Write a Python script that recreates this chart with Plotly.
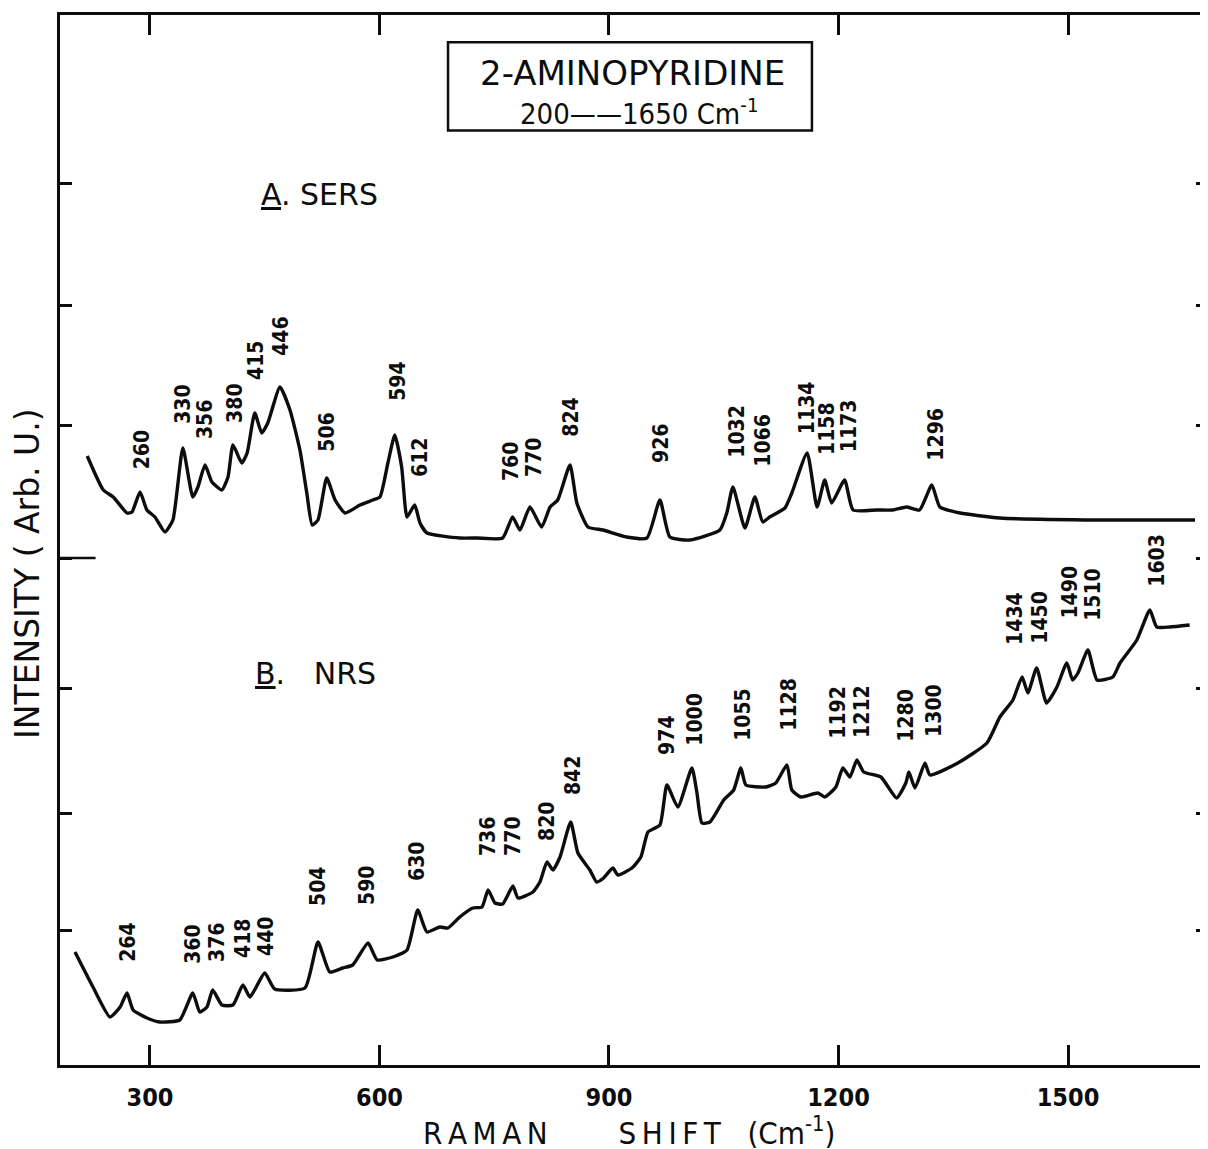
import plotly.graph_objects as go

# ---------------- data (Raman shift in cm-1, intensity in arbitrary units) ----------------
sers_x = [218, 239, 252, 270, 276.5, 287, 296, 306.5, 319.6, 330, 343, 356, 362.7, 372, 381,
          394, 402, 408.5, 420, 427, 437, 446, 454, 470, 483, 496, 505, 512, 519.6, 531,
          542, 555, 574.5, 591.5, 600.6, 611, 620, 629, 636, 646, 653, 662, 705, 727, 761,
          774, 783.6, 796.7, 812, 823, 833, 849, 858, 872.5, 892, 923, 949.6, 966.6, 979.6, 1006,
          1045, 1054, 1062, 1077.7, 1090.7, 1101, 1110, 1130, 1139, 1159, 1172, 1182, 1191, 1208, 1219,
          1250, 1271, 1289, 1306, 1322, 1332.5, 1359, 1411, 1541.6, 1666]
sers_y = [60.9, 57.5, 56.8, 55.2, 55.3, 57.3, 55.5, 54.8, 53.3, 54.5, 61.7, 56.8, 57.8, 60.0, 58.3,
          57.5, 58.8, 62.0, 60.2, 61.2, 65.2, 63.2, 64.2, 67.8, 65.5, 61.5, 57.2, 54.0, 54.5, 58.7,
          56.5, 55.2, 56.0, 56.5, 56.8, 60.2, 63.0, 59.8, 54.8, 56.0, 54.2, 53.2, 52.7, 52.7, 52.7,
          54.8, 53.5, 55.8, 53.8, 55.8, 56.5, 60.0, 56.2, 53.8, 53.5, 52.8, 52.7, 56.5, 52.8, 52.5,
          53.5, 55.2, 57.8, 53.7, 56.8, 54.3, 54.8, 55.7, 57.2, 61.2, 55.8, 58.5, 56.2, 58.5, 55.5,
          55.5, 55.5, 55.8, 55.5, 58.0, 55.8, 55.2, 54.7, 54.5, 54.5]

nrs_x = [202, 225.5, 247.7, 261, 270, 278, 296, 313, 339, 356, 365, 374.5, 382, 394, 408.5,
         421.5, 430.7, 450, 463, 502.6, 519.6, 535, 552, 565, 585, 597, 617.6, 636, 650, 662,
         679, 689.5, 705, 722, 734, 742, 751, 761, 774.4, 781, 800.6, 809.7, 819, 826.7, 836,
         850, 859.4, 875, 884, 893, 905, 911.7, 930, 941.7, 951, 966.6, 975.7, 990, 1008.4, 1015,
         1021.5, 1032, 1050, 1063, 1072.4, 1079, 1105, 1118, 1132.6, 1139, 1151, 1173, 1182, 1196.6, 1205.7,
         1215, 1224, 1233, 1255.4, 1276, 1288, 1292, 1300, 1313, 1319.5, 1356, 1394, 1411, 1428, 1440,
         1447.5, 1459, 1472, 1485.5, 1498.5, 1506, 1513, 1526, 1538, 1558.6, 1568, 1590, 1607, 1616, 1633,
         1659]
nrs_y = [11.3, 7.8, 4.8, 5.8, 7.2, 5.5, 4.7, 4.3, 4.5, 7.2, 5.3, 5.8, 7.5, 6.0, 6.0,
         8.0, 6.8, 9.2, 7.6, 7.7, 12.3, 9.3, 9.7, 10.0, 12.2, 10.5, 10.8, 11.5, 15.5, 13.3,
         13.8, 13.7, 14.8, 15.7, 15.8, 17.5, 16.2, 16.1, 17.9, 16.7, 17.3, 18.3, 20.3, 19.5, 20.8,
         24.3, 21.2, 19.5, 18.3, 18.7, 19.7, 19.0, 19.7, 20.8, 23.3, 24.0, 28.0, 25.8, 29.7, 27.2,
         24.2, 24.3, 26.5, 27.5, 29.7, 28.0, 27.8, 28.2, 30.0, 27.5, 26.8, 27.2, 26.8, 27.8, 29.7,
         28.8, 30.5, 29.3, 28.8, 26.7, 28.2, 29.3, 27.7, 30.2, 29.0, 30.2, 32.2, 34.8, 36.5, 38.8,
         37.2, 39.7, 36.2, 37.8, 40.2, 38.5, 39.2, 41.5, 38.5, 38.8, 40.2, 42.5, 45.5, 43.8, 43.8,
         44.0]

sers_labels = ["260", "330", "356", "380", "415", "446", "506", "594", "612", "760", "770", "824",
               "926", "1032", "1066", "1134", "1158", "1173", "1296"]
sers_lab_x = [290, 343, 372, 411, 438.5, 471, 531, 624, 653, 772, 802, 850,
              968, 1067, 1101, 1159, 1185, 1214, 1327]
sers_lab_y = [61.5, 66.1, 64.5, 66.2, 70.5, 72.9, 63.3, 68.4, 60.7, 60.3, 60.7, 64.8,
              62.1, 63.4, 62.5, 65.7, 63.6, 63.9, 63.1]

nrs_labels = ["264", "360", "376", "418", "440", "504", "590", "630", "736", "770", "820", "842",
              "974", "1000", "1055", "1128", "1192", "1212", "1280", "1300", "1434", "1450", "1490",
              "1510", "1603"]
nrs_lab_x = [271, 356, 387.6, 421.6, 451.6, 519.6, 583.6, 649, 742, 774.4, 819, 853,
             975.7, 1012, 1075, 1135, 1199, 1230.6, 1288, 1324.7, 1430.6, 1463, 1502,
             1532.5, 1616]
nrs_lab_y = [12.3, 12.1, 12.3, 12.7, 12.9, 17.9, 18.0, 20.4, 22.8, 22.9, 24.3, 28.9,
             33.0, 34.6, 35.1, 36.1, 35.3, 35.4, 35.0, 35.5, 44.7, 44.8, 47.3,
             47.1, 50.5]

x_ticks = [300, 600, 900, 1200, 1500]
y_ticks = [13.5, 25.2, 37.7, 50.7, 64.0, 76.0, 88.2]
baseline_tick = 50.7   # the longer left tick separating the two spectra

# ---------------- styling ----------------
INK = "#0d0d0d"
NARROW = "Liberation Sans Narrow, DejaVu Sans Condensed, Arial Narrow, sans-serif"
COND = "DejaVu Sans Condensed, Liberation Sans Narrow, sans-serif"
WIDE = "DejaVu Sans, Liberation Sans, sans-serif"
NB = "\u00a0"
TS = "\u2009"

fig = go.Figure()
for xs, ys, name in [(sers_x, sers_y, "A. SERS"), (nrs_x, nrs_y, "B. NRS")]:
    fig.add_trace(go.Scatter(x=xs, y=ys, mode="lines", name=name,
                             line=dict(color=INK, width=3.4, shape="spline", smoothing=0.5),
                             showlegend=False, hoverinfo="x+y"))

ann = []
for txt, xv, yv in list(zip(sers_labels, sers_lab_x, sers_lab_y)) + list(zip(nrs_labels, nrs_lab_x, nrs_lab_y)):
    ann.append(dict(x=xv, y=yv, xref="x", yref="y", text=txt, showarrow=False, textangle=-90,
                    xanchor="center", yanchor="middle",
                    font=dict(family=COND, size=21, color=INK, weight="bold")))

ann += [
    dict(x=522, y=87.1, xref="x", yref="y", text="<u>A</u>. SERS", showarrow=False,
         xanchor="center", yanchor="middle", font=dict(family=WIDE, size=30, color=INK)),
    dict(x=517, y=39.2, xref="x", yref="y", text="<u>B</u>." + NB * 3 + "NRS", showarrow=False,
         xanchor="center", yanchor="middle", font=dict(family=WIDE, size=30, color=INK)),
    dict(x=0.499, y=0.945, xref="paper", yref="paper", text="2-AMINOPYRIDINE", showarrow=False,
         xanchor="center", yanchor="middle", font=dict(family=WIDE, size=34, color=INK)),
    dict(x=0.505, y=0.908, xref="paper", yref="paper",
         text="200\u2014\u20141650 Cm<sup>-1</sup>", showarrow=False,
         xanchor="center", yanchor="middle", font=dict(family=NARROW, size=29, color=INK)),
    dict(x=-0.0279, y=0.4686, xref="paper", yref="paper", text="INTENSITY ( Arb. U.)",
         showarrow=False, textangle=-90, xanchor="center", yanchor="middle",
         font=dict(family=WIDE, size=33, color=INK)),
    dict(x=0.4956, y=-0.0625, xref="paper", yref="paper",
         text="R" + TS + "A" + TS + "M" + TS + "A" + TS + "N" + NB * 8 + TS.join("SHIFT") + NB * 3
              + "(Cm<sup>-1</sup>)",
         showarrow=False, xanchor="center", yanchor="middle",
         font=dict(family=COND, size=31, color=INK)),
]

# page body adds an 8px offset; margins compensate so the frame sits where the original does
fig.update_layout(
    width=1208, height=1149,
    margin=dict(l=52, r=8, t=7, b=92, autoexpand=False),
    paper_bgcolor="white", plot_bgcolor="white",
    annotations=ann,
    shapes=[
        dict(type="rect", xref="paper", yref="paper", x0=0.338, x1=0.655, y0=0.890, y1=0.974,
             line=dict(color=INK, width=2.5)),
        dict(type="line", xref="paper", yref="y", x0=0, x1=0.031, y0=baseline_tick, y1=baseline_tick,
             line=dict(color=INK, width=2.5)),
    ],
)
fig.update_xaxes(range=[182.4, 1683], tickvals=x_ticks, ticks="inside", ticklen=20, tickwidth=2.5,
                 tickcolor=INK, showline=True, linewidth=3, linecolor=INK, mirror="ticks",
                 showgrid=False, zeroline=False, ticklabelstandoff=8,
                 tickfont=dict(family=NARROW, size=25, color=INK, weight="bold"))
fig.update_yaxes(range=[0, 105], tickvals=y_ticks, ticks="inside", ticklen=12, tickwidth=2.5,
                 tickcolor=INK, showline=True, linewidth=3, linecolor=INK, mirror="ticks",
                 showgrid=False, zeroline=False, showticklabels=False)

fig.write_html("out.html")
